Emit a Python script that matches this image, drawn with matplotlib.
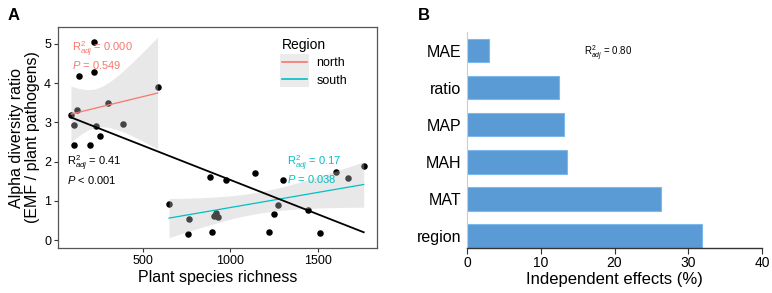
import numpy as np
import matplotlib
matplotlib.use("Agg")
import matplotlib.pyplot as plt
from matplotlib.lines import Line2D
from matplotlib.patches import Rectangle

plt.rcParams['font.family'] = ['Liberation Sans', 'DejaVu Sans']
plt.rcParams['mathtext.fontset'] = 'custom'
plt.rcParams['mathtext.rm'] = 'Liberation Sans'
plt.rcParams['mathtext.it'] = 'Liberation Sans:italic'

# ---- Panel A data ----
north_x = [222, 134, 220, 584, 121, 89, 302, 108, 230, 384, 254, 108, 195]
north_y = [5.04, 4.19, 4.28, 3.89, 3.32, 3.18, 3.49, 2.93, 2.92, 2.96, 2.65, 2.42, 2.42]
south_x = [649, 765, 755, 881, 894, 975, 1140, 1298, 1605, 1670, 1761, 1270, 1250,
           1441, 1222, 1511, 905, 920, 930]
south_y = [0.92, 0.53, 0.15, 1.61, 0.21, 1.54, 1.71, 1.53, 1.73, 1.58, 1.89, 0.89, 0.66,
           0.76, 0.21, 0.19, 0.62, 0.68, 0.58]
t_crit = {11: 2.201, 17: 2.110}

# ---- Panel B data ----
vars_b = ['region', 'MAT', 'MAH', 'MAP', 'ratio', 'MAE']
effects = [31.8, 26.3, 13.5, 13.2, 12.5, 3.0]

RED = '#F8766D'
CYAN = '#00BFC4'

fig = plt.figure(figsize=(7.72, 2.93), dpi=100)
axA = fig.add_axes([58/772, 45/293, 319/772, 221/293])
axB = fig.add_axes([467/772, 45/293, 295/772, 216/293])


def fit(x, y):
    x = np.asarray(x, float); y = np.asarray(y, float)
    b, a = np.polyfit(x, y, 1)
    return a, b


def band(ax, x, y, color):
    x = np.asarray(x, float); y = np.asarray(y, float)
    n = len(x)
    a, b = fit(x, y)
    xs = np.linspace(x.min(), x.max(), 100)
    ys = a + b * xs
    res = y - (a + b * x)
    s = np.sqrt(np.sum(res**2) / (n - 2))
    se = s * np.sqrt(1/n + (xs - x.mean())**2 / np.sum((x - x.mean())**2))
    t = t_crit[n - 2]
    ax.fill_between(xs, ys - t*se, ys + t*se, color='#c0c0c0', alpha=0.36, lw=0, zorder=3)
    ax.plot(xs, ys, color=color, lw=0.9, zorder=4)


axA.scatter(north_x + south_x, north_y + south_y, s=22, color='black', zorder=2, lw=0)
band(axA, north_x, north_y, RED)
band(axA, south_x, south_y, CYAN)
allx = np.array(north_x + south_x, float); ally = np.array(north_y + south_y, float)
a, b = fit(allx, ally)
xs = np.linspace(allx.min(), allx.max(), 50)
axA.plot(xs, a + b*xs, color='black', lw=1.3, zorder=5)

axA.set_xlim(15, 1837)
axA.set_ylim(-0.2, 5.43)
axA.set_xticks([500, 1000, 1500])
axA.set_yticks([0, 1, 2, 3, 4, 5])
axA.tick_params(labelsize=9, length=3, width=0.8, color='#333333', pad=2)
for sp in axA.spines.values():
    sp.set_color('#555555'); sp.set_linewidth(0.9)
axA.set_xlabel('Plant species richness', fontsize=11.5, labelpad=2)
axA.set_ylabel('Alpha diversity ratio\n(EMF / plant pathogens)', fontsize=11.5, labelpad=3, linespacing=1.05)

axA.text(94, 4.85, r'$\mathrm{R}^2_{adj}$ = 0.000', color=RED, fontsize=8, zorder=6, va='center')
axA.text(94, 4.45, r'$P$ = 0.549', color=RED, fontsize=8, zorder=6, va='center')
axA.text(68, 1.96, r'$\mathrm{R}^2_{adj}$ = 0.41', color='black', fontsize=8, zorder=6, va='center')
axA.text(68, 1.54, r'$P$ < 0.001', color='black', fontsize=8, zorder=6, va='center')
axA.text(1325, 1.97, r'$\mathrm{R}^2_{adj}$ = 0.17', color=CYAN, fontsize=8, zorder=6, va='center')
axA.text(1325, 1.57, r'$P$ = 0.038', color=CYAN, fontsize=8, zorder=6, va='center')

handles = [Line2D([], [], color=RED, lw=1.2), Line2D([], [], color=CYAN, lw=1.2)]
leg = axA.legend(handles, ['north', 'south'], title='Region', loc='upper left',
                 bbox_to_anchor=(0.685, 0.975), frameon=False, fontsize=9,
                 title_fontsize=10, handlelength=2.0, handletextpad=0.8,
                 labelspacing=0.45, borderaxespad=0)
leg._legend_box.align = 'left'
leg.set_zorder(10)

# legend key gray box
fig.canvas.draw()
bbs = [h.get_window_extent() for h in leg.legend_handles]
x0 = min(bb.x0 for bb in bbs) - 2; x1 = max(bb.x1 for bb in bbs) + 2
y0 = min(bb.y0 for bb in bbs) - 8; y1 = max(bb.y1 for bb in bbs) + 8
inv = fig.transFigure.inverted()
(fx0, fy0), (fx1, fy1) = inv.transform([(x0, y0), (x1, y1)])
axA.add_patch(Rectangle((fx0, fy0), fx1 - fx0, fy1 - fy0, transform=fig.transFigure,
                        facecolor='#ebebeb', edgecolor='none', zorder=8, clip_on=False))

# ---- Panel B ----
pos = np.arange(len(vars_b))
axB.barh(pos, effects, height=0.64, color='#5B9BD5', edgecolor='#7DB8EC', linewidth=0.8)
axB.set_yticks(pos)
axB.set_yticklabels(vars_b, fontsize=11.5)
axB.set_xlim(0, 40)
axB.set_ylim(-0.33, 5.5)
axB.set_xticks([0, 10, 20, 30, 40])
axB.tick_params(axis='x', labelsize=10, length=4, width=0.8, color='#333333', pad=2)
axB.tick_params(axis='y', length=0, pad=4)
axB.spines['top'].set_visible(False)
axB.spines['right'].set_visible(False)
axB.spines['left'].set_color('#cccccc')
axB.spines['bottom'].set_color('#333333')
axB.spines['bottom'].set_linewidth(1.0)
axB.set_xlabel('Independent effects (%)', fontsize=12, labelpad=1)
axB.text(15.8, 4.92, r'$\mathrm{R}^2_{adj}$ = 0.80', fontsize=7, va='center')

fig.text(8/772, 1 - 15/293, 'A', fontsize=12, fontweight='bold', va='center')
fig.text(418/772, 1 - 15/293, 'B', fontsize=12, fontweight='bold', va='center')

fig.savefig('out.png', dpi=100)
